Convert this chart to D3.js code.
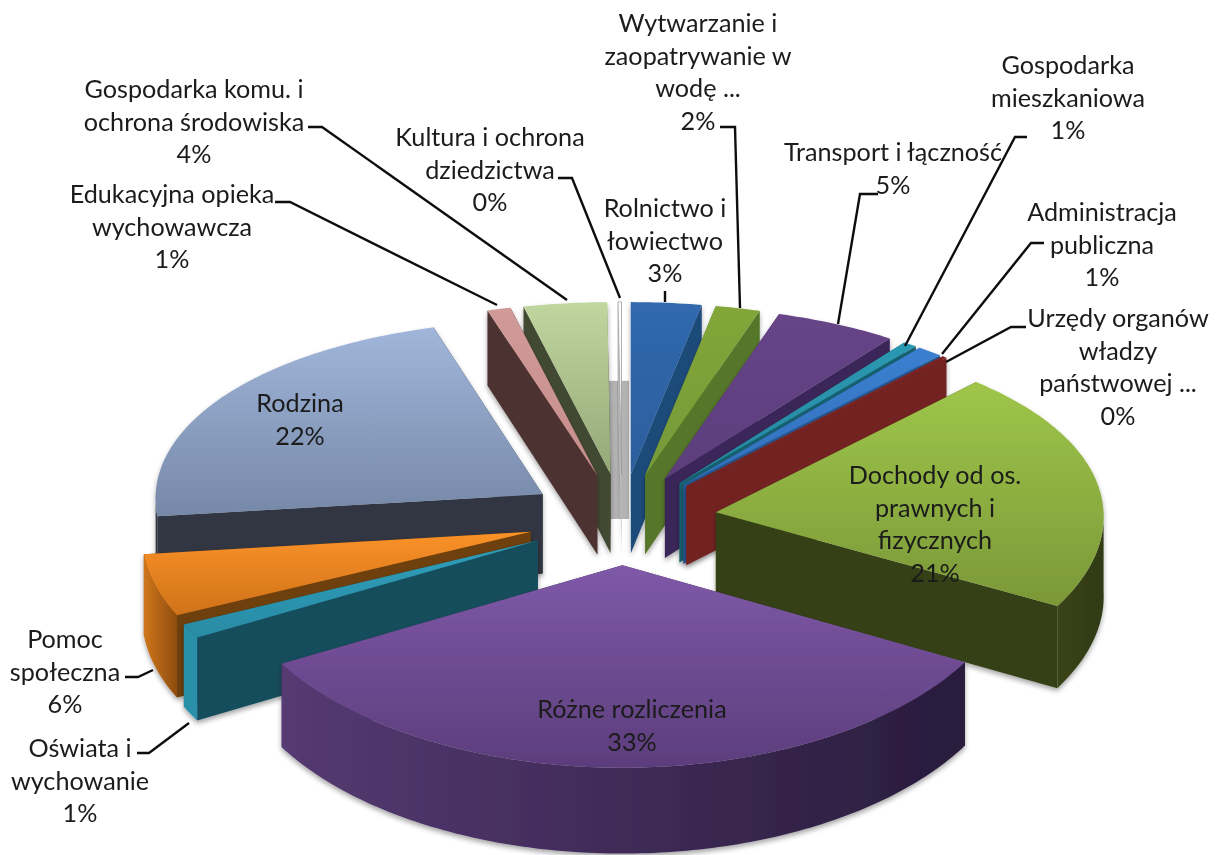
<!DOCTYPE html>
<html>
<head>
<meta charset="utf-8">
<script src="https://cdn.jsdelivr.net/npm/d3@7"></script>
<style>
  html, body { margin: 0; background: #fff; }
  text { font-family: Lato, "Open Sans", sans-serif; font-size: 25.2px; fill: #1a1a1a; text-anchor: middle; dominant-baseline: central; }
</style>
</head>
<body>
<div id="chart"></div>
<script>
// data, clockwise from 12 o'clock
const categories = [
  ["Rolnictwo i", "łowiectwo"],
  ["Wytwarzanie i", "zaopatrywanie w", "wodę ..."],
  ["Transport i łączność"],
  ["Gospodarka", "mieszkaniowa"],
  ["Administracja", "publiczna"],
  ["Urzędy organów", "władzy", "państwowej ..."],
  ["Dochody od os.", "prawnych i", "fizycznych"],
  ["Różne rozliczenia"],
  ["Oświata i", "wychowanie"],
  ["Pomoc", "społeczna"],
  ["Rodzina"],
  ["Edukacyjna opieka", "wychowawcza"],
  ["Gospodarka komu. i", "ochrona środowiska"],
  ["Kultura i ochrona", "dziedzictwa"]
];
// slice sizes, printed percentages as written on it
const values = [3, 1.9, 5.2, 0.6, 1.1, 0.2, 21.2, 33.45, 1.2, 5.25, 22.2, 1, 3.55, 0.15];
const percents = ["3%", "2%", "5%", "1%", "1%", "0%", "21%", "33%", "1%", "6%", "22%", "1%", "4%", "0%"];

const topLight = ["#3068ae", "#82a638", "#674488", "#2b98b2", "#3b7fd0", "#7c2422", "#9fc64a", "#7f59a8", "#2f9fbb", "#fb9229", "#a0b6da", "#d09a98", "#c0d69f", "#ffffff"];
const topDark = ["#2c5f9e", "#76993a", "#5c3e7c", "#26889f", "#3270bb", "#7c2422", "#7a9838", "#5c3d7c", "#2a8ba5", "#cf7219", "#7688a8", "#c68f8d", "#94a878", "#f4f4f4"];
const rimLight = ["#24578c", "#5d7f2b", "#432d66", "#1a6a7c", "#2a5d9e", "#7c2422", "#3a4418", "#553a72", "#2a90aa", "#d0761c", "#323846", "#503635", "#464f36", "#c4c4c4"];
const rimDark = ["#1a3f68", "#4f6d26", "#34234e", "#14525f", "#24508a", "#6a1e1c", "#303a14", "#291c3c", "#2a90aa", "#8e4d0e", "#2e3440", "#4a3130", "#3e4630", "#b4b4b4"];
const sideWall = ["#1f4b7a", "#567629", "#3b285a", "#17606f", "#27568f", "#732120", "#353f16", "#3f2b57", "#174d5c", "#6e400c", "#303642", "#4d3332", "#424a33", "#bcbcbc"];

// leader lines and label spots
const labelX = [665, 698, 893, 1068, 1102, 1118, 935, 632, 80, 65, 300, 172, 194, 490];
const labelY = [207, 22, 151, 64, 211, 317, 474, 708, 747, 638, 402, 193, 88, 136];
const leaders = [
  [[665, 291], [665, 302]],
  [[720, 127], [735, 127], [740, 308]],
  [[878, 194], [860, 194], [838, 324]],
  [[1027, 137], [1015, 137], [905, 346]],
  [[1044, 243], [1031, 243], [942, 354]],
  [[1026, 327], [1011, 327], [946, 362]],
  null, null,
  [[137, 753], [149, 753], [189, 723]],
  [[125, 677], [138, 677], [153, 670]],
  null,
  [[275, 202], [290, 202], [497, 305]],
  [[308, 127], [322, 127], [567, 300]],
  [[558, 178], [572, 178], [620, 298]]
];

const width = 1219, height = 855;
const cx = 622, cy = 519;      // pie axis on the top plane
const radius = 388;
const explode = 95;
const tilt = 0.48;
const depth = 80;
const focalX = 20000, focalY = 7100;

// pie plane to screen, with a bit of perspective
function project(u, v, z) {
  let sx = 1 / (1 - v / focalX);
  let sy = 1 / (1 - v / focalY);
  return [cx + sx * u, cy + sy * (v * tilt + z)];
}

let svg = d3.select("#chart").append("svg")
  .attr("width", width)
  .attr("height", height)
  .style("display", "block");

let defs = svg.append("defs");

let shadow = defs.append("filter").attr("id", "shadow")
  .attr("x", "-10%").attr("y", "-10%").attr("width", "120%").attr("height", "125%");
shadow.append("feDropShadow")
  .attr("dx", 0).attr("dy", 3).attr("stdDeviation", 2.5)
  .attr("flood-color", "#000").attr("flood-opacity", 0.35);

let soft = defs.append("filter").attr("id", "soft");
soft.append("feGaussianBlur").attr("stdDeviation", 0.45);

values.forEach((d, i) => {
  let g1 = defs.append("linearGradient").attr("id", "top" + i)
    .attr("x1", 0).attr("y1", 0).attr("x2", 0).attr("y2", 1);
  g1.append("stop").attr("offset", 0).attr("stop-color", topLight[i]);
  g1.append("stop").attr("offset", 1).attr("stop-color", topDark[i]);

  let g2 = defs.append("linearGradient").attr("id", "rim" + i)
    .attr("x1", 0).attr("y1", 0).attr("x2", 1).attr("y2", 0);
  g2.append("stop").attr("offset", 0).attr("stop-color", rimLight[i]);
  g2.append("stop").attr("offset", 1).attr("stop-color", rimDark[i]);
});

let line = d3.line();
let pie = d3.pie().sort(null).value(d => d);
let arcs = pie(values);

let root = svg.append("g").attr("filter", "url(#soft)");

// grey core seen through the gap at the back
let coreTop = project(0, -300, 0), coreBot = project(0, 0, 0);
root.append("rect")
  .attr("x", cx - 13)
  .attr("y", coreTop[1])
  .attr("width", 20)
  .attr("height", coreBot[1] - coreTop[1])
  .attr("fill", "#b3b3b3");

function rimAngles(a0, a1) {
  let n = Math.max(2, Math.ceil((a1 - a0) * 60));
  return d3.range(n + 1).map(k => a0 + (a1 - a0) * k / n);
}

// back slices first, the ones nearest the viewer last
let order = arcs.map((a, i) => {
  let mid = (a.startAngle + a.endAngle) / 2;
  return { a, i, mid, key: Math.min(mid, 2 * Math.PI - mid) };
}).sort((p, q) => d3.ascending(p.key, q.key));

order.forEach(p => {
  let { a, i, mid } = p;
  let du = explode * Math.sin(mid), dv = -explode * Math.cos(mid);
  let pt = (ang, r, z) => project(du + r * Math.sin(ang), dv - r * Math.cos(ang), z);
  let g = root.append("g").attr("filter", "url(#shadow)");

  // radial walls
  [a.startAngle, a.endAngle].forEach(ang => {
    g.append("path")
      .attr("d", line([pt(ang, 0, 0), pt(ang, radius, 0), pt(ang, radius, depth), pt(ang, 0, depth)]) + "Z")
      .attr("fill", sideWall[i]);
  });

  // rim, only the part turned to the viewer
  let from = Math.max(a.startAngle, Math.PI / 2), to = Math.min(a.endAngle, 1.5 * Math.PI);
  if (to > from) {
    let front = rimAngles(from, to);
    let upper = front.map(t => pt(t, radius, 0));
    let lower = front.map(t => pt(t, radius, depth)).reverse();
    g.append("path")
      .attr("d", line(upper.concat(lower)) + "Z")
      .attr("fill", "url(#rim" + i + ")");
  }

  // top face
  let face = [pt(0, 0, 0)].concat(rimAngles(a.startAngle, a.endAngle).map(t => pt(t, radius, 0)));
  g.append("path")
    .attr("d", line(face) + "Z")
    .attr("fill", "url(#top" + i + ")")
    .attr("stroke", i === values.length - 1 ? "#9a9a9a" : "none")
    .attr("stroke-width", 0.8);
});

// leaders
leaders.forEach(l => {
  if (!l) return;
  root.append("path")
    .attr("d", line(l))
    .attr("fill", "none")
    .attr("stroke", "#111")
    .attr("stroke-width", 2.4);
});

// labels
const lineGap = 32.5;
categories.forEach((lines, i) => {
  let txt = root.append("text").attr("transform", "translate(" + labelX[i] + "," + labelY[i] + ")");
  lines.concat([percents[i]]).forEach((s, k) => {
    txt.append("tspan").attr("x", 0).attr("y", k * lineGap).text(s);
  });
});
</script>
</body>
</html>
